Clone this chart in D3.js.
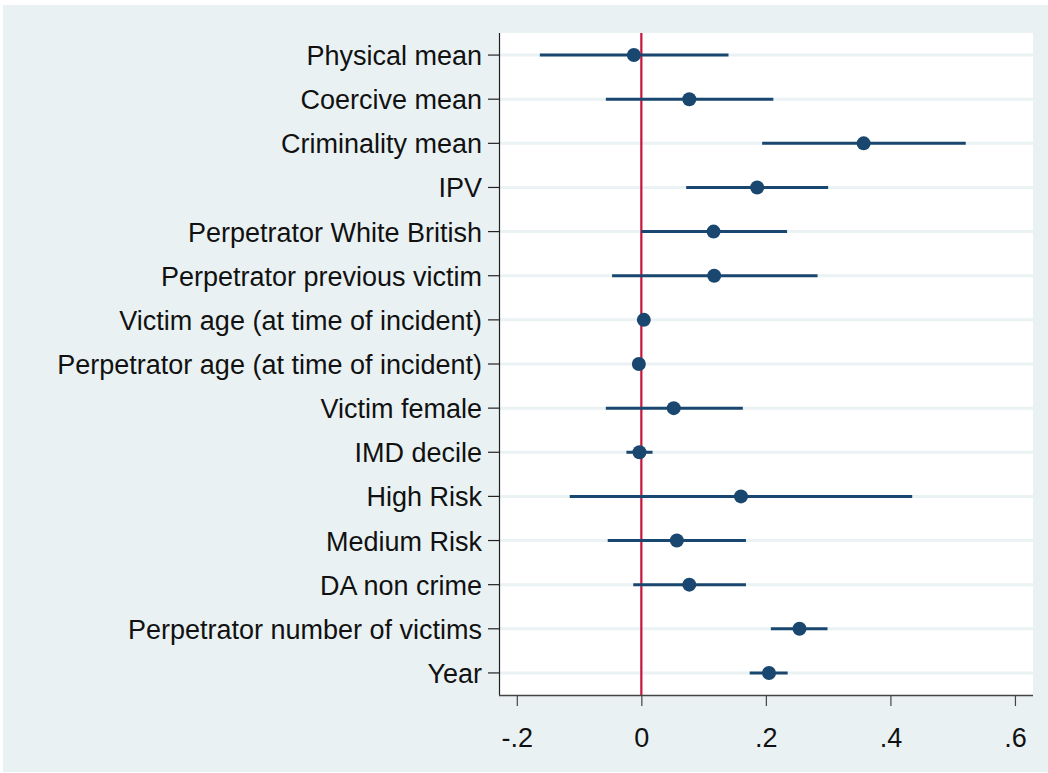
<!DOCTYPE html>
<html>
<head>
<meta charset="utf-8">
<script src="https://cdn.jsdelivr.net/npm/d3@7"></script>
<style>
  html, body { margin: 0; padding: 0; background: #ffffff; }
  svg { display: block; }
</style>
</head>
<body>
<svg id="chart" width="1048" height="773"></svg>
<script>
// ---- data ----
const categories = [
  "Physical mean",
  "Coercive mean",
  "Criminality mean",
  "IPV",
  "Perpetrator White British",
  "Perpetrator previous victim",
  "Victim age (at time of incident)",
  "Perpetrator age (at time of incident)",
  "Victim female",
  "IMD decile",
  "High Risk",
  "Medium Risk",
  "DA non crime",
  "Perpetrator number of victims",
  "Year"
];
const estimates = [-0.012, 0.077, 0.357, 0.186, 0.116, 0.117, 0.004, -0.004, 0.052, -0.003, 0.160, 0.057, 0.077, 0.254, 0.205];
const ciLower  = [-0.163, -0.057, 0.194, 0.072, 0.000, -0.047, 0.001, -0.007, -0.057, -0.024, -0.115, -0.054, -0.013, 0.208, 0.174];
const ciUpper  = [0.140, 0.212, 0.521, 0.300, 0.234, 0.283, 0.007, -0.001, 0.163, 0.018, 0.435, 0.168, 0.168, 0.299, 0.235];
const xTickValues = [-0.2, 0, 0.2, 0.4, 0.6];
const xTickLabels = ["-.2", "0", ".2", ".4", ".6"];
const referenceValue = 0;

// ---- layout ----
const W = 1048, H = 773;
const plot = { left: 499, right: 1033, top: 33, bottom: 695 };
const bgColor = "#e9f1f3";
const gridColor = "#eaf2f3";
const navy = "#1a476f";
const red = "#c8143c";
const fontFamily = "'Liberation Sans', Arial, Helvetica, sans-serif";
const fontSize = 27;

const svg = d3.select("#chart");

// outer region
svg.append("rect").attr("x", 3).attr("y", 5).attr("width", W - 3).attr("height", 767).attr("fill", bgColor);
// plot region
svg.append("rect").attr("x", plot.left).attr("y", plot.top)
  .attr("width", plot.right - plot.left).attr("height", plot.bottom - plot.top).attr("fill", "#ffffff");

const x = d3.scaleLinear().domain([-0.2286, 0.6290]).range([plot.left, plot.right]);
const y = d3.scaleBand().domain(categories).range([plot.top, plot.bottom]).paddingInner(0).paddingOuter(0);
const yc = c => y(c) + y.bandwidth() / 2;

const rows = categories.map((c, i) => ({ c, est: estimates[i], lo: ciLower[i], hi: ciUpper[i] }));

// grid lines
svg.append("g").selectAll("line").data(categories).join("line")
  .attr("x1", plot.left).attr("x2", plot.right)
  .attr("y1", d => yc(d)).attr("y2", d => yc(d))
  .attr("stroke", gridColor).attr("stroke-width", 3);

// reference line
svg.append("line")
  .attr("x1", x(referenceValue)).attr("x2", x(referenceValue))
  .attr("y1", plot.top).attr("y2", plot.bottom)
  .attr("stroke", red).attr("stroke-width", 2.2);

// CI lines
svg.append("g").selectAll("line").data(rows).join("line")
  .attr("x1", d => x(d.lo)).attr("x2", d => x(d.hi))
  .attr("y1", d => yc(d.c)).attr("y2", d => yc(d.c))
  .attr("stroke", navy).attr("stroke-width", 3);

// markers
svg.append("g").selectAll("circle").data(rows).join("circle")
  .attr("cx", d => x(d.est)).attr("cy", d => yc(d.c)).attr("r", 7)
  .attr("fill", navy);

// y axis
const yAxis = svg.append("g")
  .attr("transform", `translate(${plot.left},0)`)
  .call(d3.axisLeft(y).tickSize(11).tickPadding(6).tickSizeOuter(0));
yAxis.select(".domain").attr("stroke", "#222").attr("stroke-width", 1.2)
  .attr("d", `M0.5,${plot.top}V${plot.bottom}`);
yAxis.selectAll(".tick line").attr("stroke", "#222").attr("stroke-width", 1.2);
yAxis.selectAll(".tick text")
  .attr("font-family", fontFamily).attr("font-size", fontSize).attr("fill", "#111")
  .attr("dy", "0.37em");

// x axis
const xAxis = svg.append("g")
  .attr("transform", `translate(0,${plot.bottom})`)
  .call(d3.axisBottom(x).tickValues(xTickValues)
    .tickFormat((d, i) => xTickLabels[i]).tickSize(11).tickSizeOuter(0));
xAxis.select(".domain").attr("stroke", "#444").attr("stroke-width", 1.5)
  .attr("d", `M${plot.left},0.5H${plot.right}`);
xAxis.selectAll(".tick line").attr("stroke", "#444").attr("stroke-width", 1.2);
xAxis.selectAll(".tick text")
  .attr("font-family", fontFamily).attr("font-size", fontSize).attr("fill", "#111")
  .attr("y", 52).attr("dy", "0");
</script>
</body>
</html>
